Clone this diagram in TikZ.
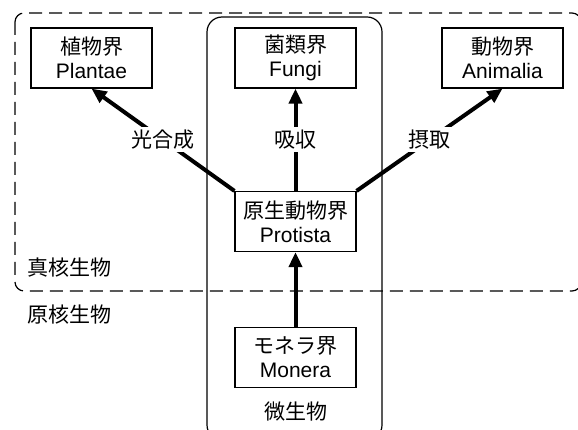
\documentclass[tikz,border=0pt]{standalone}
\usepackage{fontspec}
\setmainfont{Liberation Sans}
\newfontfamily\cjk{Noto Sans CJK JP}
\usetikzlibrary{arrows.meta}
\begin{document}
\begin{tikzpicture}[x=1pt,y=-1pt, font=\fontsize{21}{24}\selectfont,
 box/.style={draw, line width=1.2pt, minimum width=121pt, minimum height=60pt, align=center, inner sep=0pt, fill=white},
 arr/.style={line width=4pt, -{Triangle[length=15pt,width=13pt]}},
 lbl/.style={fill=white, inner sep=3pt, font=\cjk\fontsize{21}{24}\selectfont},
 grp/.style={font=\cjk\fontsize{21}{24}\selectfont, inner sep=0pt}]
\useasboundingbox (0,0) rectangle (578,430);
\draw[dash pattern=on 13pt off 7pt, line width=1.2pt, rounded corners=9pt] (15,13) rectangle (581,291);
\draw[line width=1.2pt, rounded corners=15pt] (207,17) rectangle (382,440);
\node[box] (plant) at (91.5,58) {{\cjk 植物界}\\Plantae};
\node[box] (fungi) at (295.5,58) {{\cjk 菌類界}\\Fungi};
\node[box] (anim) at (502.5,58) {{\cjk 動物界}\\Animalia};
\node[box] (prot) at (295.5,221.5) {{\cjk 原生動物界}\\Protista};
\node[box] (mon) at (295.5,357.5) {{\cjk モネラ界}\\Monera};
\draw[arr] (prot.north west) -- (plant.south) node[lbl, pos=0.5] (l1) {光合成};
\draw[arr] (prot.north) -- (fungi.south) node[lbl, pos=0.5] (l2) {吸収};
\draw[arr] (prot.north east) -- (anim.south) node[lbl, pos=0.5] (l3) {摂取};
\draw[arr] (mon.north) -- (prot.south);
\node[grp, anchor=west] (euk) at (27,268) {真核生物};
\node[grp, anchor=west] (pro) at (27,315) {原核生物};
\node[grp] (micro) at (295.5,412) {微生物};
\end{tikzpicture}
\end{document}
